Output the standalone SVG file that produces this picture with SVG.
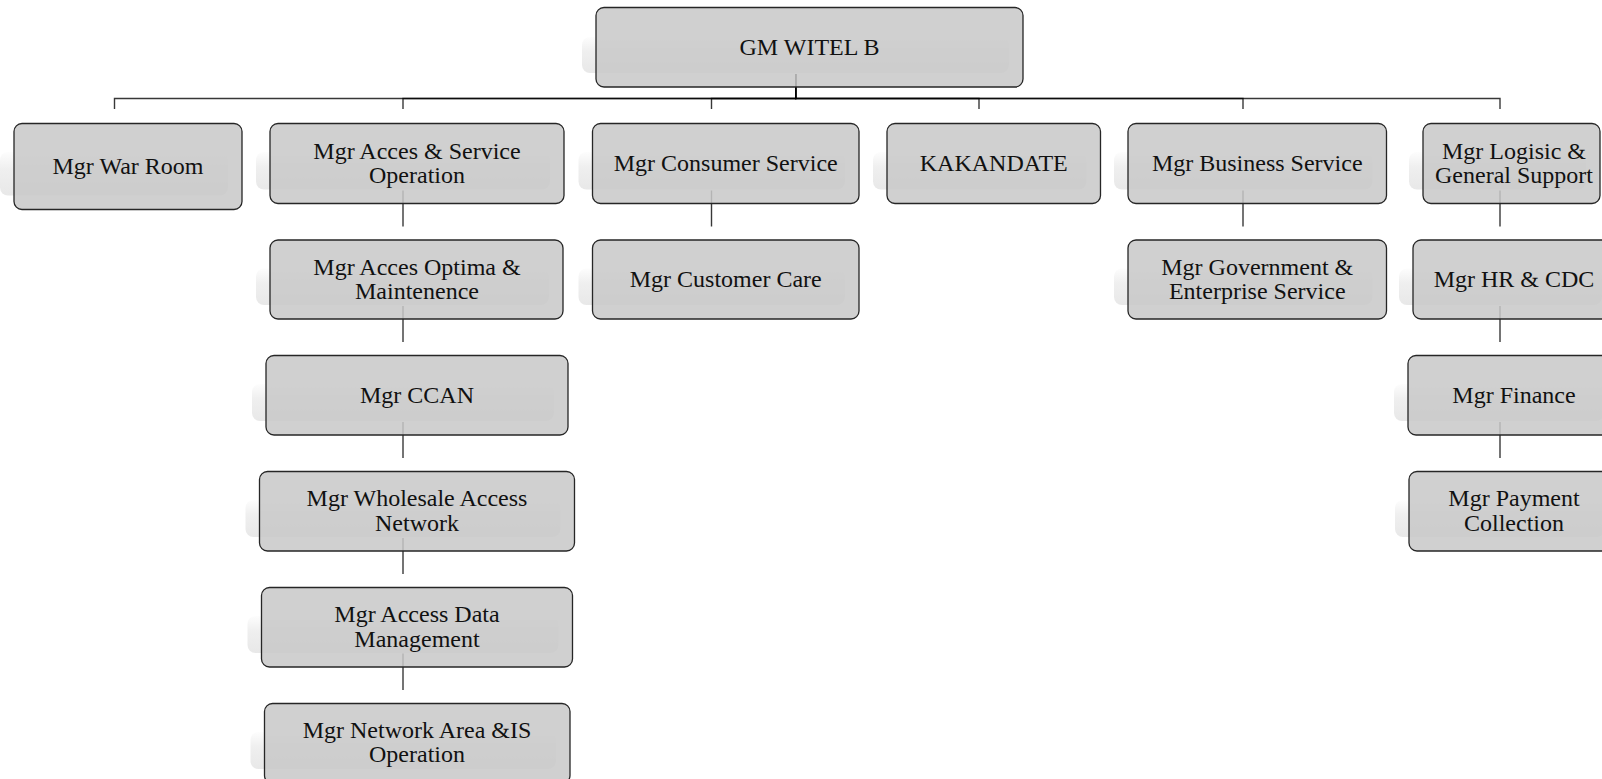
<svg xmlns="http://www.w3.org/2000/svg" width="1602" height="779" viewBox="0 0 1602 779">
  <defs>
    <linearGradient id="shade" x1="0" y1="0" x2="0" y2="1">
      <stop offset="0" stop-color="#fdfdfd"/>
      <stop offset="0.4" stop-color="#efefef"/>
      <stop offset="1" stop-color="#e8e8e8"/>
    </linearGradient>
  </defs>
  <style>
    .bg { fill: #ffffff; }
    .shadow { fill: url(#shade); }
    .box { fill: #c8c8c8; fill-opacity: 0.86; stroke: #262626; stroke-width: 1.3; }
    .lbl { font-family: "Liberation Serif", "Times New Roman", serif; font-size: 24px; fill: #111; text-anchor: middle; }
    .link { fill: none; stroke: #000; stroke-opacity: 0.78; stroke-width: 1.4; }
  </style>

  <rect class="bg" x="0" y="0" width="1602" height="779"/>

  <!-- reporting lines -->
  <g id="connectors">
    <!-- GM to first level -->
    <path class="link" d="M795.7,74 V98.5 H114.5 V109"/>
    <path class="link" d="M795.7,74 V98.5 H403 V109"/>
    <path class="link" d="M795.7,74 V98.5 H711.5 V109"/>
    <path class="link" d="M795.7,74 V98.5 H979 V109"/>
    <path class="link" d="M795.7,74 V98.5 H1243 V109"/>
    <path class="link" d="M795.7,74 V98.5 H1500 V109"/>
    <!-- access & service chain -->
    <path class="link" d="M403,190.5 V226.5"/>
    <path class="link" d="M403,306 V342"/>
    <path class="link" d="M403,422 V458"/>
    <path class="link" d="M403,538 V574"/>
    <path class="link" d="M403,653.5 V690"/>
    <!-- consumer -->
    <path class="link" d="M711.5,190.5 V226.5"/>
    <!-- business -->
    <path class="link" d="M1243,190.5 V226.5"/>
    <!-- logistic chain -->
    <path class="link" d="M1500,190.5 V226.5"/>
    <path class="link" d="M1500,306 V342"/>
    <path class="link" d="M1500,422 V458"/>
  </g>

  <g id="gm-witel">
    <rect class="shadow" x="582" y="37" width="427" height="36" rx="8"/>
    <rect class="box" x="596" y="7.5" width="427" height="79.5" rx="8"/>
    <text class="lbl" x="809.5" y="54.75">GM WITEL B</text>
  </g>

  <g id="war-room">
    <rect class="shadow" x="0" y="152" width="228" height="43.5" rx="8"/>
    <rect class="box" x="14" y="123.5" width="228" height="86" rx="8"/>
    <text class="lbl" x="128" y="174">Mgr War Room</text>
  </g>

  <g id="acces-service">
    <rect class="shadow" x="256" y="152" width="294" height="37.5" rx="8"/>
    <rect class="box" x="270" y="123.5" width="294" height="80" rx="8"/>
    <text class="lbl" x="417" y="158.75">Mgr Acces &amp; Service</text>
    <text class="lbl" x="417" y="183.25">Operation</text>
  </g>

  <g id="consumer-service">
    <rect class="shadow" x="578.5" y="152" width="266.5" height="37.5" rx="8"/>
    <rect class="box" x="592.5" y="123.5" width="266.5" height="80" rx="8"/>
    <text class="lbl" x="725.75" y="171">Mgr Consumer Service</text>
  </g>

  <g id="kakandate">
    <rect class="shadow" x="873" y="152" width="213.5" height="37.5" rx="8"/>
    <rect class="box" x="887" y="123.5" width="213.5" height="80" rx="8"/>
    <text class="lbl" x="993.75" y="171">KAKANDATE</text>
  </g>

  <g id="business-service">
    <rect class="shadow" x="1114" y="152" width="258.5" height="37.5" rx="8"/>
    <rect class="box" x="1128" y="123.5" width="258.5" height="80" rx="8"/>
    <text class="lbl" x="1257.25" y="171">Mgr Business Service</text>
  </g>

  <g id="logistic-support">
    <rect class="shadow" x="1409" y="152" width="177" height="37.5" rx="8"/>
    <rect class="box" x="1423" y="123.5" width="177" height="80" rx="8"/>
    <text class="lbl" x="1514" y="158.75">Mgr Logisic &amp;</text>
    <text class="lbl" x="1514" y="183.25">General Support</text>
  </g>

  <g id="acces-optima">
    <rect class="shadow" x="256" y="268.5" width="293" height="36.5" rx="8"/>
    <rect class="box" x="270" y="240" width="293" height="79" rx="8"/>
    <text class="lbl" x="417" y="274.75">Mgr Acces Optima &amp;</text>
    <text class="lbl" x="417" y="299.25">Maintenence</text>
  </g>

  <g id="customer-care">
    <rect class="shadow" x="578.5" y="268.5" width="266.5" height="36.5" rx="8"/>
    <rect class="box" x="592.5" y="240" width="266.5" height="79" rx="8"/>
    <text class="lbl" x="725.75" y="287">Mgr Customer Care</text>
  </g>

  <g id="government-enterprise">
    <rect class="shadow" x="1114" y="268.5" width="258.5" height="36.5" rx="8"/>
    <rect class="box" x="1128" y="240" width="258.5" height="79" rx="8"/>
    <text class="lbl" x="1257.25" y="274.75">Mgr Government &amp;</text>
    <text class="lbl" x="1257.25" y="299.25">Enterprise Service</text>
  </g>

  <g id="hr-cdc">
    <rect class="shadow" x="1399" y="268.5" width="203" height="36.5" rx="8"/>
    <rect class="box" x="1413" y="240" width="203" height="79" rx="8"/>
    <text class="lbl" x="1514" y="287">Mgr HR &amp; CDC</text>
  </g>

  <g id="ccan">
    <rect class="shadow" x="252" y="384" width="302" height="37" rx="8"/>
    <rect class="box" x="266" y="355.5" width="302" height="79.5" rx="8"/>
    <text class="lbl" x="417" y="402.75">Mgr CCAN</text>
  </g>

  <g id="finance">
    <rect class="shadow" x="1394" y="384" width="210" height="37" rx="8"/>
    <rect class="box" x="1408" y="355.5" width="210" height="79.5" rx="8"/>
    <text class="lbl" x="1514" y="402.75">Mgr Finance</text>
  </g>

  <g id="wholesale-access">
    <rect class="shadow" x="245.5" y="500" width="315" height="37" rx="8"/>
    <rect class="box" x="259.5" y="471.5" width="315" height="79.5" rx="8"/>
    <text class="lbl" x="417" y="506.25">Mgr Wholesale Access</text>
    <text class="lbl" x="417" y="530.75">Network</text>
  </g>

  <g id="payment-collection">
    <rect class="shadow" x="1395" y="500" width="210" height="37" rx="8"/>
    <rect class="box" x="1409" y="471.5" width="210" height="79.5" rx="8"/>
    <text class="lbl" x="1514" y="506.25">Mgr Payment</text>
    <text class="lbl" x="1514" y="530.75">Collection</text>
  </g>

  <g id="access-data">
    <rect class="shadow" x="247.5" y="616" width="311" height="37" rx="8"/>
    <rect class="box" x="261.5" y="587.5" width="311" height="79.5" rx="8"/>
    <text class="lbl" x="417" y="622.25">Mgr Access Data</text>
    <text class="lbl" x="417" y="646.75">Management</text>
  </g>

  <g id="network-area">
    <rect class="shadow" x="250.5" y="732" width="305.5" height="37" rx="8"/>
    <rect class="box" x="264.5" y="703.5" width="305.5" height="80" rx="8"/>
    <text class="lbl" x="417" y="737.75">Mgr Network Area &amp;IS</text>
    <text class="lbl" x="417" y="762.25">Operation</text>
  </g>
</svg>
